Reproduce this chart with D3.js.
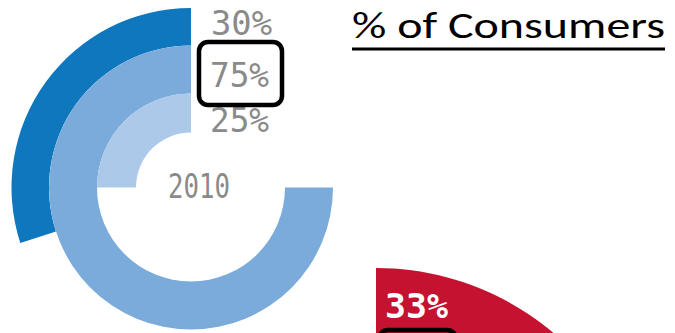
<!DOCTYPE html>
<html>
<head>
<meta charset="utf-8">
<script src="https://cdn.jsdelivr.net/npm/d3@7/dist/d3.min.js"></script>
<style>
  html, body { margin: 0; padding: 0; background: #fff; }
  svg { display: block; }
</style>
</head>
<body>
<svg id="chart" width="675" height="333"></svg>
<script>
// Share of consumers, 2010 rings (outer -> inner)
const ringLabels = ["30%", "75%", "25%"];
const ringValues = [30, 75, 25];
const ringColors = ["#0e77bd", "#7aabdb", "#adc9e9"];
const yearLabel = "2010";
const highlighted = "75%";

// Following year's chart, only its outer ring shows in the frame
const nextValues = [33];
const nextLabels = ["33%"];
const nextColors = ["#c41230"];

const titleText = "% of Consumers";

const svg = d3.select("#chart");
const W = 675, H = 333;

// ---- 2010 radial bars (drawn counter-clockwise from 12 o'clock) ----
const cx = 191, cy = 187.5;
const radii = [[142, 179.5], [94, 142], [55, 94]];
const angleCCW = d3.scaleLinear().domain([0, 100]).range([0, -2 * Math.PI]);

const g = svg.append("g").attr("transform", `translate(${cx},${cy})`);
g.selectAll("path.ring")
  .data(ringValues)
  .join("path")
  .attr("class", "ring")
  .attr("fill", (d, i) => ringColors[i])
  .attr("d", (d, i) => d3.arc()
      .innerRadius(radii[i][0])
      .outerRadius(radii[i][1])
      .startAngle(0)
      .endAngle(angleCCW(d))());

// value labels stacked to the right of the 12 o'clock line
const labelFont = "'DejaVu Sans Mono', monospace";
const labelPos = [
  { x: 211, y: 34.5, w: 61 },
  { x: 210, y: 87, w: 59 },
  { x: 210, y: 132, w: 59 }
];
svg.selectAll("text.val")
  .data(ringLabels)
  .join("text")
  .attr("class", "val")
  .attr("x", (d, i) => labelPos[i].x)
  .attr("y", (d, i) => labelPos[i].y)
  .attr("textLength", (d, i) => labelPos[i].w)
  .attr("lengthAdjust", "spacingAndGlyphs")
  .attr("font-family", labelFont)
  .attr("font-size", 33)
  .attr("fill", "#8a8a8a")
  .text(d => d);

// highlight box around the selected label
const hi = ringLabels.indexOf(highlighted);
svg.append("rect")
  .attr("x", 199).attr("y", 42)
  .attr("width", 83).attr("height", 63)
  .attr("rx", 9).attr("ry", 9)
  .attr("fill", "none")
  .attr("stroke", "#000")
  .attr("stroke-width", 4.5)
  .attr("data-label", ringLabels[hi]);

// year in the middle
svg.append("text")
  .attr("x", 168).attr("y", 198)
  .attr("textLength", 62)
  .attr("lengthAdjust", "spacingAndGlyphs")
  .attr("font-family", labelFont)
  .attr("font-size", 33)
  .attr("fill", "#8a8a8a")
  .text(yearLabel);

// ---- next chart (clockwise from 12 o'clock) ----
const ncx = 376, ncy = 543;
const nRadii = [[200, 275]];
const angleCW = d3.scaleLinear().domain([0, 100]).range([0, 2 * Math.PI]);
const ng = svg.append("g").attr("transform", `translate(${ncx},${ncy})`);
ng.selectAll("path")
  .data(nextValues)
  .join("path")
  .attr("fill", (d, i) => nextColors[i])
  .attr("d", (d, i) => d3.arc()
      .innerRadius(nRadii[i][0])
      .outerRadius(nRadii[i][1])
      .startAngle(0)
      .endAngle(angleCW(d))());

svg.selectAll("text.nval")
  .data(nextLabels)
  .join("text")
  .attr("class", "nval")
  .attr("x", 385).attr("y", 318)
  .attr("textLength", 63)
  .attr("lengthAdjust", "spacingAndGlyphs")
  .attr("font-family", labelFont)
  .attr("font-weight", "bold")
  .attr("font-size", 33)
  .attr("fill", "#fff")
  .text(d => d);

svg.append("rect")
  .attr("x", 379).attr("y", 330)
  .attr("width", 77).attr("height", 63)
  .attr("rx", 9).attr("ry", 9)
  .attr("fill", "none")
  .attr("stroke", "#000")
  .attr("stroke-width", 4.5);

// ---- title ----
svg.append("text")
  .attr("x", 352).attr("y", 38)
  .attr("textLength", 313)
  .attr("lengthAdjust", "spacingAndGlyphs")
  .attr("font-family", "Carlito, Calibri, 'Open Sans', sans-serif")
  .attr("font-size", 36)
  .attr("fill", "#000")
  .text(titleText);
svg.append("line")
  .attr("x1", 352).attr("x2", 665)
  .attr("y1", 49).attr("y2", 49)
  .attr("stroke", "#000")
  .attr("stroke-width", 3);
</script>
</body>
</html>
